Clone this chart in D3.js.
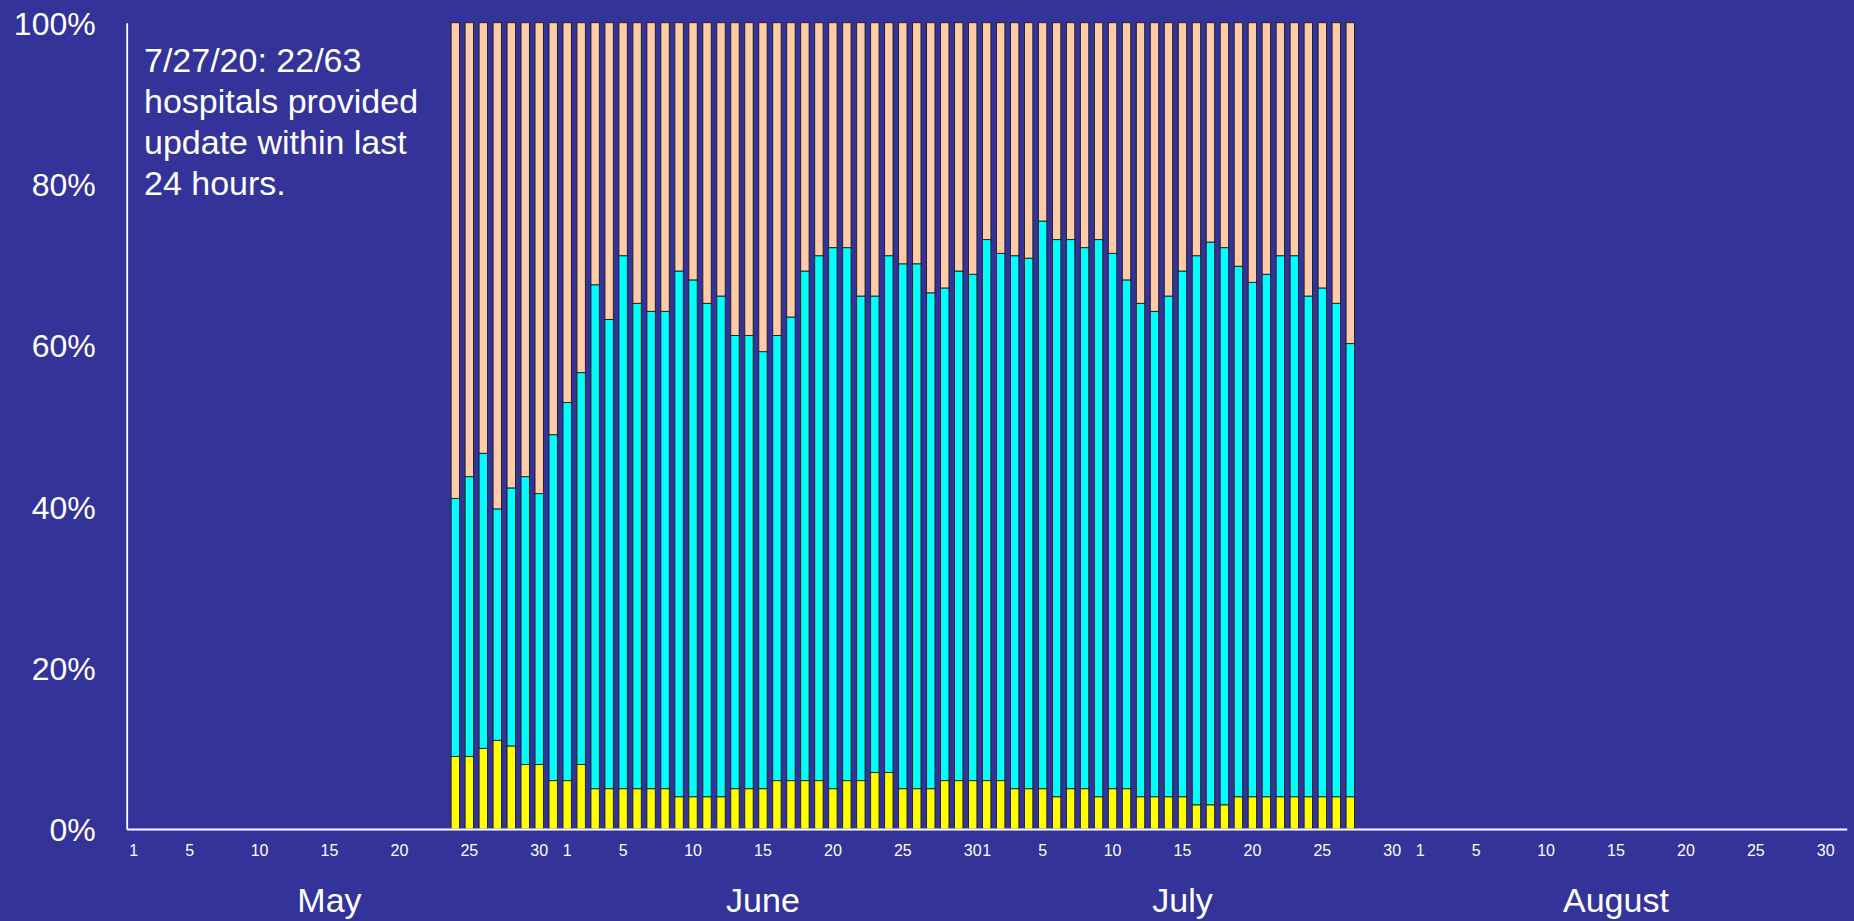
<!DOCTYPE html>
<html>
<head>
<meta charset="utf-8">
<script src="https://cdn.jsdelivr.net/npm/d3@7"></script>
<style>
  html, body { margin: 0; padding: 0; background: #333399; }
  svg { display: block; font-family: Arial, 'Liberation Sans', sans-serif; }
</style>
</head>
<body>
<div id="chart"></div>
<script>
// report days: 5/24/20 .. 7/27/20, one bar each
var firstDay = '2020-05-24';

// share of hospitals, % (bottom segment, yellow)
var yellowPct = [
  9, 9, 10, 11, 10.3, 8, 8, 6, 6, 8,
  5, 5, 5, 5, 5, 5, 4, 4, 4, 4,
  5, 5, 5, 6, 6, 6, 6, 5, 6, 6,
  7, 7, 5, 5, 5, 6, 6, 6, 6, 6,
  5, 5, 5, 4, 5, 5, 4, 5, 5, 4,
  4, 4, 4, 3, 3, 3, 4, 4, 4, 4,
  4, 4, 4, 4, 4
];

// middle segment, cyan
var cyanPct = [
  32.0, 34.7, 36.6, 28.7, 32.0, 35.7, 33.6, 42.9, 46.9, 48.6,
  62.5, 58.2, 66.1, 60.2, 59.2, 59.2, 65.2, 64.1, 61.2, 62.1,
  56.2, 56.2, 54.2, 55.2, 57.5, 63.2, 65.1, 67.1, 66.1, 60.1,
  59.1, 64.1, 65.1, 65.1, 61.5, 61.1, 63.2, 62.8, 67.1, 65.4,
  66.1, 65.8, 70.4, 69.1, 68.1, 67.1, 69.1, 66.4, 63.1, 61.2,
  60.2, 62.1, 65.2, 68.1, 69.8, 69.1, 65.8, 63.8, 64.8, 67.1,
  67.1, 62.1, 63.1, 61.2, 56.2
];

var yTicks = [0, 20, 40, 60, 80, 100];
var dayTicks = [1, 5, 10, 15, 20, 25, 30];
var months = ['May', 'June', 'July', 'August'];
var note = ['7/27/20: 22/63', 'hospitals provided', 'update within last', '24 hours.'];

var colors = { yellow: '#ffff00', cyan: '#00ffff', peach: '#ffcba8' };

!(function () {
  var W = 1854, H = 921,
      left = 126.7, right = 1846.7, top = 22.7, bottom = 829;

  var parse = d3.utcParse('%Y-%m-%d');
  var allDays = d3.utcDay.range(Date.UTC(2020, 4, 1), Date.UTC(2020, 8, 1));
  var start = parse(firstDay);

  var rows = yellowPct.map(function (v, i) {
    return {
      day: d3.utcDay.offset(start, i),
      yellow: v,
      cyan: cyanPct[i],
      peach: 100 - v - cyanPct[i]
    };
  });

  var svg = d3.select('#chart').append('svg')
    .attr('width', W)
    .attr('height', H);

  svg.append('rect')
    .attr('width', W).attr('height', H)
    .attr('fill', '#333399');

  var x = d3.scaleBand()
    .domain(allDays.map(function (d) { return +d; }))
    .range([left, right])
    .paddingInner(0.4)
    .paddingOuter(0.2);

  var y = d3.scaleLinear().domain([0, 100]).range([bottom, top]);

  // stacked bars
  var stack = d3.stack().keys(['yellow', 'cyan', 'peach'])(rows);

  svg.append('g').selectAll('g')
    .data(stack)
    .enter().append('g')
    .attr('fill', function (s) { return colors[s.key]; })
    .selectAll('rect')
    .data(function (s) { return s; })
    .enter().append('rect')
    .attr('x', function (d) { return x(+d.data.day); })
    .attr('width', x.bandwidth())
    .attr('y', function (d) { return y(d[1]); })
    .attr('height', function (d) { return y(d[0]) - y(d[1]); })
    .attr('stroke', '#1a1a1a')
    .attr('stroke-width', 0.9);

  // y axis
  var yAxis = svg.append('g')
    .attr('transform', 'translate(' + left + ',0)')
    .call(d3.axisLeft(y).tickValues(yTicks).tickSize(0).tickSizeOuter(0).tickPadding(31)
      .tickFormat(function (d) { return d + '%'; }));
  yAxis.select('.domain').attr('stroke', '#fff').attr('stroke-width', 1.8);
  yAxis.selectAll('text')
    .attr('fill', '#fff')
    .attr('font-size', 32)
    .attr('font-family', 'Arial, Liberation Sans, sans-serif')
    .attr('dy', '0.36em');

  // x axis: day numbers
  var tickDays = allDays.filter(function (d) {
    return dayTicks.indexOf(d.getUTCDate()) >= 0;
  }).map(function (d) { return +d; });

  var xAxis = svg.append('g')
    .attr('transform', 'translate(0,' + bottom + ')')
    .call(d3.axisBottom(x).tickValues(tickDays).tickSize(0).tickSizeOuter(0).tickPadding(16)
      .tickFormat(function (d) { return new Date(d).getUTCDate(); }));
  xAxis.select('.domain').attr('stroke', '#fff').attr('stroke-width', 1.8);
  xAxis.selectAll('text')
    .attr('fill', '#fff')
    .attr('font-size', 16)
    .attr('font-family', 'Arial, Liberation Sans, sans-serif');

  // month names, under the 15th of each month
  svg.append('g').selectAll('text')
    .data(months)
    .enter().append('text')
    .attr('x', function (m, i) {
      return x(Date.UTC(2020, 4 + i, 15)) + x.bandwidth() / 2;
    })
    .attr('y', 912)
    .attr('text-anchor', 'middle')
    .attr('fill', '#fff')
    .attr('font-size', 34)
    .text(function (m) { return m; });

  // note
  svg.append('text')
    .attr('fill', '#fff')
    .attr('font-size', 34)
    .selectAll('tspan')
    .data(note)
    .enter().append('tspan')
    .attr('x', 144)
    .attr('y', function (t, i) { return 71.5 + i * 41.1; })
    .text(function (t) { return t; });
})();
</script>
</body>
</html>
